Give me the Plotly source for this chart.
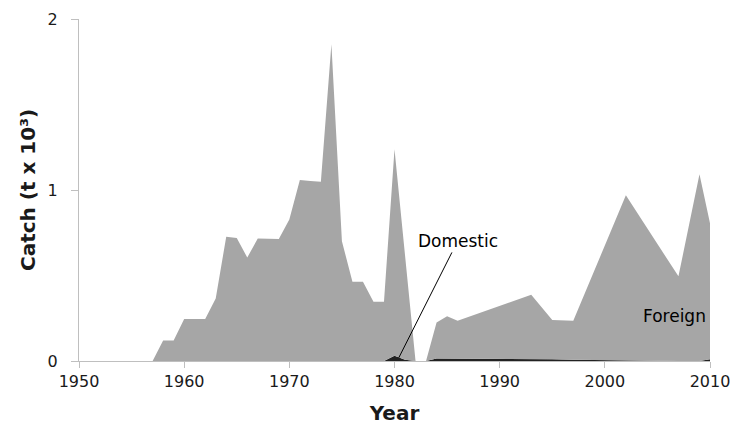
import plotly.graph_objects as go

# Catch by year (t x 10^3), stacked: domestic at the bottom, foreign on top
years = [1950, 1957, 1958, 1959, 1960, 1961, 1962, 1963, 1964, 1965, 1966,
         1967, 1968, 1969, 1970, 1971, 1972, 1973, 1974, 1975, 1976, 1977,
         1978, 1979, 1980, 1981, 1982, 1983, 1984, 1985, 1986, 1993, 1995,
         1997, 2002, 2007, 2009, 2010]

domestic = [0, 0, 0, 0, 0, 0, 0, 0, 0, 0, 0,
            0, 0, 0, 0, 0, 0, 0, 0, 0, 0, 0,
            0, 0, 0.030, 0.008, 0, 0, 0.014, 0.014, 0.014, 0.014, 0.010,
            0.007, 0.002, 0.0, 0.0, 0.010]

foreign = [0, 0, 0.120, 0.120, 0.245, 0.245, 0.245, 0.365, 0.727, 0.720, 0.605,
           0.717, 0.715, 0.713, 0.828, 1.058, 1.053, 1.048, 1.852, 0.700, 0.464, 0.464,
           0.347, 0.347, 1.208, 0.612, 0, 0, 0.211, 0.248, 0.221, 0.374, 0.230,
           0.228, 0.967, 0.495, 1.092, 0.796]

x_ticks = [1950, 1960, 1970, 1980, 1990, 2000, 2010]
y_ticks = [0, 1, 2]

FONT = "DejaVu Sans"
AXIS_GREY = "#BFBFBF"
TEXT = "#1A1A1A"

fig = go.Figure()

fig.add_trace(go.Scatter(
    x=years, y=domestic, name="Domestic", mode="lines",
    stackgroup="catch", line=dict(width=0, color="#222222"),
    fillcolor="#222222", hoverinfo="skip",
))
fig.add_trace(go.Scatter(
    x=years, y=foreign, name="Foreign", mode="lines",
    stackgroup="catch", line=dict(width=0, color="#A6A6A6"),
    fillcolor="#A6A6A6", hoverinfo="skip",
))

fig.add_annotation(
    x=1980.4, y=0.018, text="Domestic", showarrow=True,
    arrowhead=0, arrowwidth=1, arrowcolor="#000000",
    ax=59, ay=-117, font=dict(family=FONT, size=17, color="#000000"),
)
fig.add_annotation(
    x=2006.6, y=0.263, text="Foreign", showarrow=False,
    font=dict(family=FONT, size=17, color="#000000"),
)

fig.update_layout(
    width=743, height=427,
    margin=dict(l=79, r=33, t=19, b=66),
    paper_bgcolor="white", plot_bgcolor="white",
    showlegend=False,
    font=dict(family=FONT, size=16, color=TEXT),
)

fig.update_xaxes(
    range=[1950, 2010], tickvals=x_ticks, ticktext=[str(v) for v in x_ticks],
    showgrid=False, zeroline=False, automargin=False,
    showline=True, linecolor=AXIS_GREY, linewidth=1,
    ticks="outside", ticklen=6, tickcolor=AXIS_GREY,
    tickfont=dict(family=FONT, size=16, color=TEXT),
    title=dict(text="<b>Year</b>", font=dict(family=FONT, size=20, color=TEXT), standoff=15),
)
fig.update_yaxes(
    range=[0, 2], tickvals=y_ticks, ticktext=[str(v) for v in y_ticks],
    showgrid=False, zeroline=False, automargin=False,
    showline=True, linecolor=AXIS_GREY, linewidth=1,
    ticks="outside", ticklen=7, tickcolor=AXIS_GREY, ticklabelstandoff=10,
    tickfont=dict(family=FONT, size=16, color=TEXT),
    title=dict(text="<b>Catch (t x 10³)</b>", font=dict(family=FONT, size=20, color=TEXT), standoff=6),
)

fig.write_html("out.html")
